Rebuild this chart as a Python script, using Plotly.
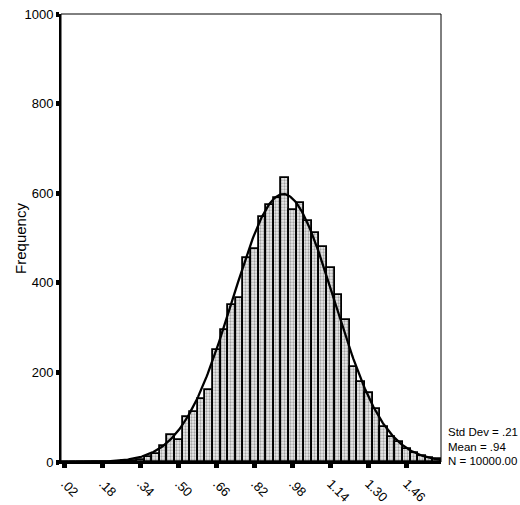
import numpy as np
import plotly.graph_objects as go

# ---- data ----
bin_start = 0.004
bin_width = 0.032
counts = [0, 0, 0, 0, 0, 0, 0, 1, 2, 3,
          5, 12, 17, 35, 60, 50, 100, 112, 140, 160,
          251, 294, 350, 365, 456, 476, 548, 573, 590, 633,
          563, 578, 539, 511, 480, 434, 372, 318, 212, 179,
          155, 119, 78, 56, 45, 30, 19, 13, 10, 7]
tick_values = [0.02, 0.18, 0.34, 0.50, 0.66, 0.82, 0.98, 1.14, 1.30, 1.46]
tick_labels = [".02", ".18", ".34", ".50", ".66", ".82", ".98", "1.14", "1.30", "1.46"]
y_ticks = [0, 200, 400, 600, 800, 1000]
std_dev = 0.2135
mean = 0.94
n_total = 10000
stats_lines = ["Std Dev = .21", "Mean = .94", "N = 10000.00"]

centers = [bin_start + bin_width * (i + 0.5) for i in range(len(counts))]
x_lo = bin_start
x_hi = bin_start + bin_width * len(counts)

# fitted normal curve (as drawn by the original software)
xc = np.linspace(x_lo, x_hi, 400)
yc = n_total * bin_width / (std_dev * np.sqrt(2 * np.pi)) * np.exp(-((xc - mean) ** 2) / (2 * std_dev ** 2))

FONT = "Liberation Sans Narrow, Liberation Sans, Arial, sans-serif"

fig = go.Figure()
fig.add_trace(go.Bar(
    x=centers, y=counts, width=bin_width,
    marker=dict(color="#dcdcdc",
                line=dict(color="black", width=1.8),
                pattern=dict(shape=".", fgcolor="#5a5a5a", bgcolor="#ececec", size=3, solidity=0.45)),
    showlegend=False, hoverinfo="skip"))
fig.add_trace(go.Scatter(x=xc, y=yc, mode="lines", line=dict(color="black", width=2.3),
                         showlegend=False, hoverinfo="skip"))

stat_y = [0.066, 0.033, 0.0015]
annotations = [dict(text=t, xref="paper", yref="paper", x=1.012, y=yy,
                    xanchor="left", yanchor="middle", showarrow=False,
                    font=dict(size=11.5, family=FONT))
               for t, yy in zip(stats_lines, stat_y)]
annotations.append(dict(text="Frequency", xref="paper", yref="paper", x=-0.108, y=0.5,
                        xanchor="center", yanchor="middle", textangle=-90, showarrow=False,
                        font=dict(size=15, family=FONT)))

fig.update_layout(
    width=520, height=505,
    margin=dict(l=61, r=79, t=14, b=43, autoexpand=False),
    paper_bgcolor="white", plot_bgcolor="white",
    bargap=0,
    font=dict(family=FONT, color="black", size=13),
    xaxis=dict(range=[x_lo, x_hi], tickmode="array", tickvals=tick_values, ticktext=tick_labels,
               tickangle=45, ticks="outside", ticklen=4, tickwidth=5, tickcolor="black",
               showline=True, linecolor="black", linewidth=2, showgrid=False, zeroline=False,
               tickfont=dict(size=13, family=FONT), ticklabelstandoff=3, automargin=False),
    yaxis=dict(range=[0, 1000], tickmode="array", tickvals=y_ticks,
               ticks="outside", ticklen=3, tickwidth=5, tickcolor="black",
               showline=True, linecolor="black", linewidth=2, showgrid=False, zeroline=False,
               tickfont=dict(size=13, family=FONT), automargin=False),
    shapes=[dict(type="rect", xref="paper", yref="paper", x0=0, x1=1, y0=0, y1=1,
                 line=dict(color="black", width=1))],
    annotations=annotations,
)

fig.write_html("out.html", config={"displayModeBar": False},
               post_script="document.body.style.margin='0px';document.body.style.overflow='hidden';")
